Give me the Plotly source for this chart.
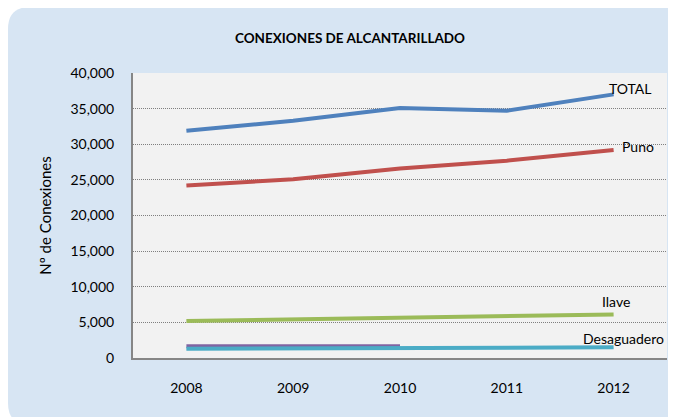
import plotly.graph_objects as go

years = ['2008', '2009', '2010', '2011', '2012']
total = [31900, 33300, 35100, 34700, 37000]
puno = [24200, 25100, 26600, 27700, 29200]
ilave = [5200, 5400, 5600, 5850, 6100]
otro = [1650, 1650, 1650, None, None]
desaguadero = [1300, 1320, 1350, 1450, 1500]

series = [
    ('TOTAL', total, '#4f81bd'),
    ('Puno', puno, '#c0504d'),
    ('Ilave', ilave, '#9bbb59'),
    ('Otro', otro, '#8064a2'),
    ('Desaguadero', desaguadero, '#4bacc6'),
]

font = 'Lato'
off = 8  # page body margin

fig = go.Figure()
for name, vals, color in series:
    fig.add_trace(go.Scatter(x=years, y=vals, mode='lines', name=name,
                             line=dict(color=color, width=4), connectgaps=False))

# plot area in window pixels: 133..667 x 73..358
L, R, T, B = 133 - off, 667 - off, 73 - off, 358 - off
def px(X):
    return (X - off - L) / (R - L)
def py(Y):
    return (B - (Y - off)) / (B - T)
x0, x1, y0, y1 = px(8), px(690), py(425), py(7)
rx, ry = 22 / (R - L), 22 / (B - T)
path = (f'M {x0+rx},{y1} L {x1},{y1} L {x1},{y0} L {x0+rx},{y0} '
        f'Q {x0},{y0} {x0},{y0+ry} L {x0},{y1-ry} Q {x0},{y1} {x0+rx},{y1} Z')
fig.add_shape(type='path', path=path, xref='paper', yref='paper',
              fillcolor='#d7e5f3', line=dict(width=0), layer='below')
fig.add_shape(type='rect', x0=0, x1=1, y0=0, y1=1, xref='paper', yref='paper',
              fillcolor='#f2f2f2', line=dict(width=0), layer='below')

labels = [
    ('TOTAL', 37800, 17, 'center'),
    ('Puno', 29700, 6, 'left'),
    ('Ilave', 8000, 2, 'center'),
    ('Desaguadero', 2800, 10, 'center'),
]
for text, yv, shift, anchor in labels:
    fig.add_annotation(x=years.index('2012'), y=yv, text=text, showarrow=False, xshift=shift,
                       xanchor=anchor, font=dict(size=14, color='#000000', family=font))

fig.update_layout(
    width=676, height=417,
    margin=dict(l=L, r=676 - R, t=T, b=417 - B),
    paper_bgcolor='#ffffff', plot_bgcolor='#f2f2f2',
    showlegend=False,
    font=dict(family=font, size=14, color='#222222'),
    title=dict(text='<b>CONEXIONES DE ALCANTARILLADO</b>', x=(350 - off) / 676, xanchor='center',
               y=1 - (38 - off) / 417, yanchor='middle', font=dict(size=13.5, family=font, color='#000000')),
)
fig.update_xaxes(type='category', range=[-0.5, 4.5], showgrid=False,
                 showline=True, linecolor='#868686', linewidth=2,
                 ticks='', ticklabelstandoff=16, tickfont=dict(size=14, color='#000000'))
fig.update_yaxes(range=[0, 40000], dtick=5000, tickformat=',', showline=True,
                 linecolor='#868686', linewidth=2, gridcolor='#7f7f7f', griddash='1px,1px',
                 gridwidth=1, zeroline=False, ticks='', ticklabelstandoff=14,
                 tickfont=dict(size=14, color='#000000'),
                 title=dict(text='Nº de Conexiones', standoff=15, font=dict(size=15, color='#000000')))

fig.write_html('out.html')
